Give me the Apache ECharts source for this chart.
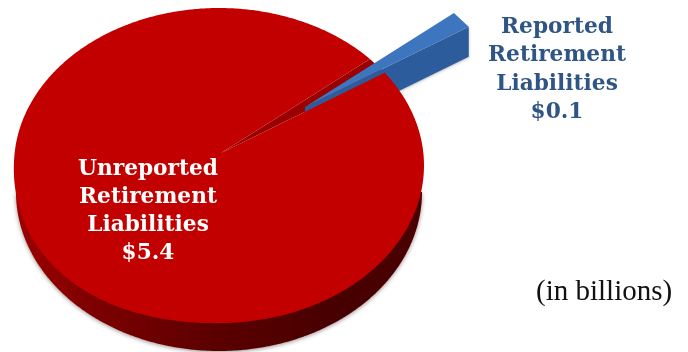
<!DOCTYPE html>
<html>
<head>
<meta charset="utf-8">
<style>html,body{margin:0;padding:0;background:#fff}#chart{width:688px;height:352px}</style>
<script src="https://cdn.jsdelivr.net/npm/echarts@6/dist/echarts.min.js"></script>
</head>
<body>
<div id="chart"></div>
<script>
// Retirement liabilities in billions of dollars
const categories = ['Unreported\nRetirement\nLiabilities', 'Reported\nRetirement\nLiabilities'];
const liabilities = [5.4, 0.1];
const unitNote = '(in billions)';

// Tilted-disc projection of the pie: upper rim, lower rim and the hub the slices meet at
const disc = { cx: 219, cy: 165.5, rx: 205, ry: 157.5, hubX: 221, hubY: 153 };
const base = { cx: 219, cy: 192, rx: 203, ry: 159 };
const explode = { x: 84, y: -46 };
const gapStartDeg = 36.05;
const sliceDepth = 30;

const total = liabilities.reduce((a, b) => a + b, 0);
const gapEndDeg = gapStartDeg + liabilities[1] / total * 360;

// Perspective swells the near-left part of the rim slightly
function bulge(deg) {
  const d = ((deg % 360) + 360) % 360 - 225;
  if (Math.abs(d) >= 50) return 1;
  const c = Math.cos(d / 50 * Math.PI / 2);
  return 1 + 0.03 * c * c;
}
function rim(deg) {
  const t = deg * Math.PI / 180, r = bulge(deg);
  return [disc.cx + disc.rx * r * Math.cos(t), disc.cy - disc.ry * r * Math.sin(t)];
}
function arcOf(fn, fromDeg, toDeg) {
  const pts = [];
  const n = Math.ceil(Math.abs(toDeg - fromDeg) * 2);
  for (let i = 0; i <= n; i++) pts.push(fn(fromDeg + (toDeg - fromDeg) * i / n));
  return pts;
}
function baseRim(deg) {
  const t = deg * Math.PI / 180;
  return [base.cx + base.rx * Math.cos(t), base.cy - base.ry * Math.sin(t)];
}
const shift = (p, dx, dy) => [p[0] + dx, p[1] + dy];
const hub = [disc.hubX, disc.hubY];

function renderUnreported() {
  const wall = arcOf(baseRim, 180, 360);
  const face = [hub].concat(arcOf(rim, gapEndDeg, gapStartDeg + 360));
  return [
    {
      type: 'polygon', z2: 1, shape: { points: wall },
      style: {
        fill: new echarts.graphic.LinearGradient(0, 0, 1, 0, [
          { offset: 0, color: '#9c0000' }, { offset: 0.2, color: '#7c0000' },
          { offset: 0.5, color: '#5a0000' }, { offset: 0.8, color: '#470000' },
          { offset: 1, color: '#4a0000' }
        ]),
        shadowBlur: 4, shadowColor: 'rgba(60,30,30,0.5)', shadowOffsetX: 0, shadowOffsetY: 1
      }
    },
    { type: 'polygon', z2: 2, shape: { points: [hub, rim(gapStartDeg), rim(gapEndDeg)] }, style: { fill: '#9a0000' } },
    { type: 'polygon', z2: 4, shape: { points: face }, style: { fill: '#c30000' } },
    {
      type: 'text', z2: 10, x: 148, y: 211,
      style: {
        text: categories[0] + '\n$' + liabilities[0].toFixed(1),
        fill: '#fff', font: 'bold 21.7px "DejaVu Serif"', align: 'center', verticalAlign: 'middle', lineHeight: 28
      }
    }
  ];
}

function renderReported() {
  const lower = shift(rim(gapStartDeg), explode.x, explode.y);
  const upper = shift(rim(gapEndDeg), explode.x, explode.y);
  const tip = shift(hub, explode.x, explode.y);
  return [
    {
      type: 'polygon', z2: 3,
      shape: { points: [tip, lower, shift(lower, 0, sliceDepth), shift(tip, 0, sliceDepth)] },
      style: { fill: '#2c5c9c', shadowBlur: 3, shadowColor: 'rgba(60,60,60,0.35)', shadowOffsetY: 1 }
    },
    { type: 'polygon', z2: 5, shape: { points: [tip, upper, lower] }, style: { fill: '#3d76be' } },
    {
      type: 'text', z2: 10, x: 557, y: 70,
      style: {
        text: categories[1] + '\n$' + liabilities[1].toFixed(1),
        fill: '#2f5585', font: 'bold 21.7px "DejaVu Serif"', align: 'center', verticalAlign: 'middle', lineHeight: 28.3
      }
    }
  ];
}

const chart = echarts.init(document.getElementById('chart'), null, { renderer: 'canvas' });
chart.setOption({
  animation: false,
  backgroundColor: '#fff',
  graphic: [{
    type: 'text', left: 536, top: 278,
    style: { text: unitNote, fill: '#111', font: '29px "Liberation Serif"' }
  }],
  series: [{
    type: 'custom',
    coordinateSystem: 'none',
    data: liabilities,
    silent: true,
    renderItem(params) {
      return { type: 'group', children: params.dataIndex === 0 ? renderUnreported() : renderReported() };
    }
  }]
});
</script>
</body>
</html>
